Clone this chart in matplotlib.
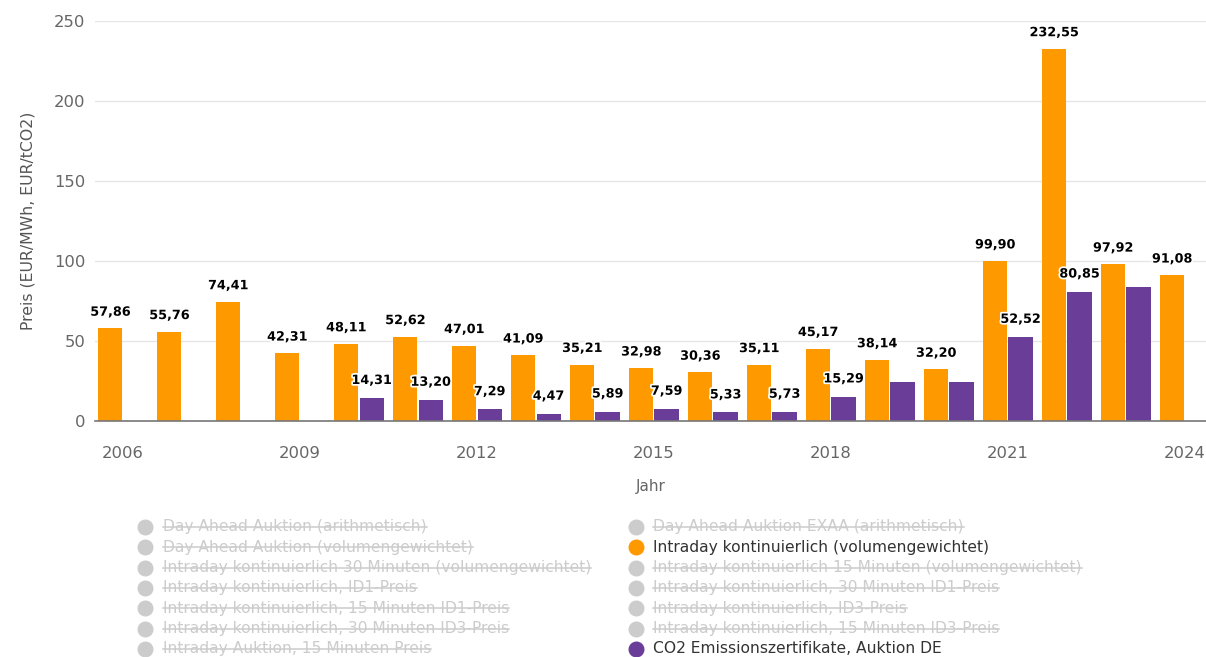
import matplotlib

matplotlib.use("Agg")
import matplotlib.pyplot as plt
import numpy as np
import matplotlib.patheffects as pe
from matplotlib.lines import Line2D

years = list(range(2006, 2025))
intraday = [57.86, 55.76, 74.41, 42.31, 48.11, 52.62, 47.01, 41.09, 35.21, 32.98,
            30.36, 35.11, 45.17, 38.14, 32.20, 99.90, 232.55, 97.92, 91.08]
# None = no bar; unlabeled bars were estimated from the picture
co2 = [None, None, None, None, 14.31, 13.20, 7.29, 4.47, 5.89, 7.59,
       5.33, 5.73, 15.29, 24.6, 24.4, 52.52, 80.85, 83.5, None]
co2_labeled = [False] * 4 + [True] * 9 + [False, False, True, True, False, False]

legend_left = [
    "Day Ahead Auktion (arithmetisch)",
    "Day Ahead Auktion (volumengewichtet)",
    "Intraday kontinuierlich 30 Minuten (volumengewichtet)",
    "Intraday kontinuierlich, ID1-Preis",
    "Intraday kontinuierlich, 15 Minuten ID1-Preis",
    "Intraday kontinuierlich, 30 Minuten ID3-Preis",
    "Intraday Auktion, 15 Minuten Preis",
]
legend_right = [
    "Day Ahead Auktion EXAA (arithmetisch)",
    "Intraday kontinuierlich (volumengewichtet)",
    "Intraday kontinuierlich 15 Minuten (volumengewichtet)",
    "Intraday kontinuierlich, 30 Minuten ID1-Preis",
    "Intraday kontinuierlich, ID3-Preis",
    "Intraday kontinuierlich, 15 Minuten ID3-Preis",
    "CO2 Emissionszertifikate, Auktion DE",
]
active = {"Intraday kontinuierlich (volumengewichtet)": "#ff9900",
          "CO2 Emissionszertifikate, Auktion DE": "#6a3d99"}

ORANGE = "#ff9900"
PURPLE = "#6a3d99"
W, H = 1206, 657


def fmt(v):
    return f"{v:.2f}".replace(".", ",")


fig = plt.figure(figsize=(W / 100, H / 100), dpi=100)
ax = fig.add_axes([95 / W, (H - 421) / H, (W - 95) / W, 400 / H])

x = np.arange(len(years))
bw = 0.41
halo = [pe.withStroke(linewidth=2.5, foreground="white")]

ax.bar(x - 0.215, intraday, width=bw, color=ORANGE, zorder=2)
for xi, v in zip(x, intraday):
    ax.annotate(fmt(v), (xi - 0.215, v), xytext=(0, 7), textcoords="offset points",
                ha="center", va="bottom", fontsize=9.2, fontweight="bold",
                color="black", path_effects=halo, zorder=4, annotation_clip=False)

cx = [xi + 0.215 for xi, v in zip(x, co2) if v is not None]
cv = [v for v in co2 if v is not None]
ax.bar(cx, cv, width=bw, color=PURPLE, zorder=2)
for xi, v, lab in zip(x, co2, co2_labeled):
    if v is not None and lab:
        ax.annotate(fmt(v), (xi + 0.215, v), xytext=(0, 8), textcoords="offset points",
                    ha="center", va="bottom", fontsize=9.2, fontweight="bold",
                    color="black", path_effects=halo, zorder=5, annotation_clip=False)

ax.set_xlim(-0.475, 18.36)
ax.set_ylim(0, 250)
ax.set_yticks([0, 50, 100, 150, 200, 250])
ax.set_xticks(x[::3])
ax.set_xticklabels([str(y) for y in years[::3]])
ax.tick_params(axis="both", length=0, labelsize=11.8, labelcolor="#666666")
ax.tick_params(axis="x", pad=18)
ax.tick_params(axis="y", pad=7)
ax.grid(axis="y", color="#e6e6e6", linewidth=1, zorder=0)
ax.set_axisbelow(True)
for side in ["top", "right", "left"]:
    ax.spines[side].set_visible(False)
ax.spines["bottom"].set_color("#777777")
ax.spines["bottom"].set_linewidth(1.2)
ax.spines["bottom"].set_zorder(3)

ax.set_ylabel("Preis (EUR/MWh, EUR/tCO2)", fontsize=11.3, color="#555555", labelpad=13)
ax.set_xlabel("Jahr", fontsize=11, color="#666666", labelpad=13)

# legend, drawn by hand so hidden series can be struck through
row_y = [527 + 20.33 * i for i in range(7)]
texts = []
for col, (mx, tx) in enumerate([(145, 163), (636, 653)]):
    names = legend_left if col == 0 else legend_right
    for name, ry in zip(names, row_y):
        color = active.get(name, "#cccccc")
        fig.add_artist(Line2D([mx / W], [1 - ry / H], marker="o", markersize=10.5,
                              color=color, linestyle="none", transform=fig.transFigure))
        t = fig.text(tx / W, 1 - ry / H, name, fontsize=11.2, va="center", ha="left",
                     color="#333333" if name in active else "#cccccc")
        if name not in active:
            texts.append(t)

fig.canvas.draw()
renderer = fig.canvas.get_renderer()
for t in texts:
    bb = t.get_window_extent(renderer)
    ymid = bb.y0 + bb.height * 0.5
    fig.add_artist(Line2D([bb.x0 / W, bb.x1 / W], [ymid / H, ymid / H],
                          color="#cccccc", linewidth=1.1, transform=fig.transFigure))

fig.savefig("out.png", dpi=100)
